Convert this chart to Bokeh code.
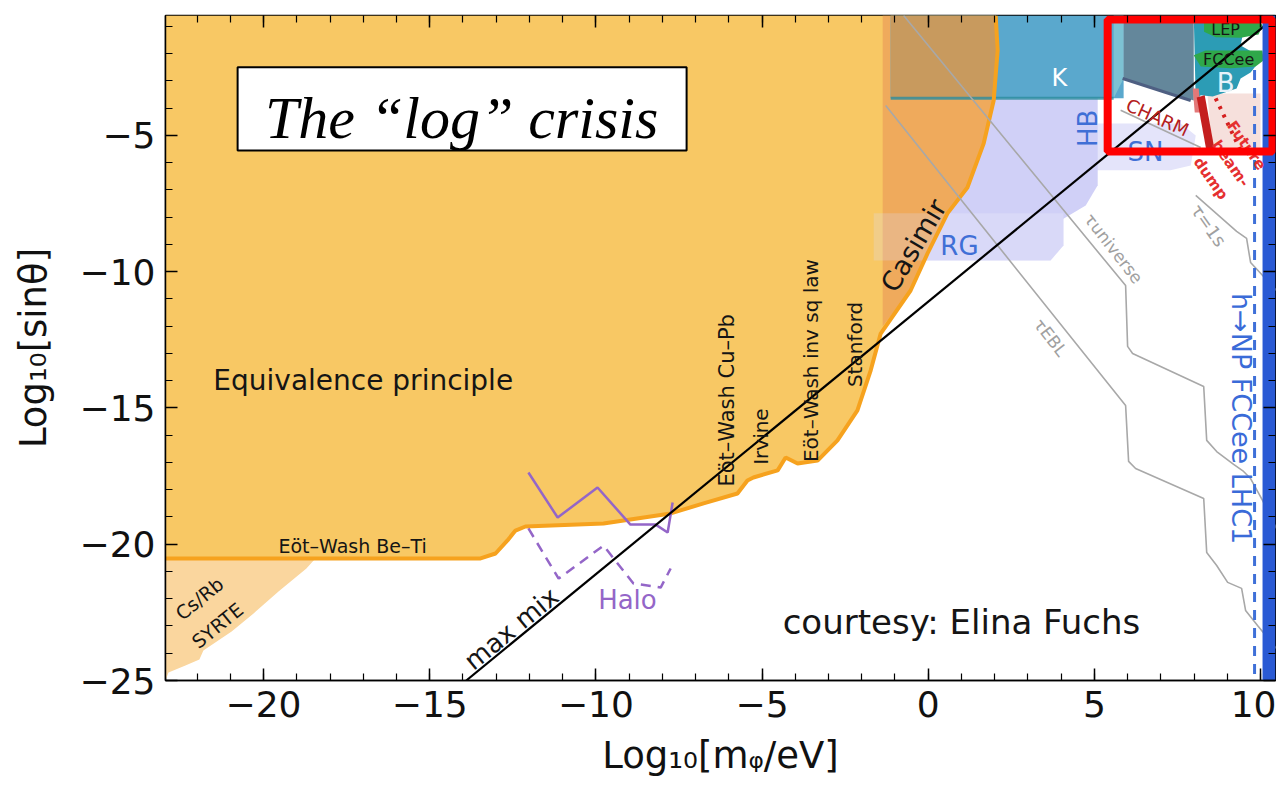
import math
from bokeh.plotting import figure
from bokeh.models import Range1d, LinearAxis, SingleIntervalTicker
from bokeh.core.properties import value
from bokeh.embed import file_html
from bokeh.resources import INLINE

# ---------------- data (log10 m / eV , log10 sin theta) ----------------
x_ticks = [-20, -15, -10, -5, 0, 5, 10]
y_ticks = [-25, -20, -15, -10, -5]

# Equivalence principle / fifth-force exclusion, lower boundary
ep_x = [-22.95, -13.47, -13.02, -12.66, -12.42, -12.12, -9.77, -7.75, -6.76, -5.74, -5.44, -5.26,
        -4.53, -4.29, -3.93, -3.33, -2.73, -2.13, -1.73, -1.43, -0.53, -0.02, 0.58, 1.18, 1.67,
        1.97, 2.09, 2.03]
ep_y = [-20.52, -20.52, -20.34, -19.86, -19.50, -19.35, -19.24, -18.87, -18.50, -18.14, -17.66,
        -17.55, -17.29, -16.82, -17.04, -16.93, -16.19, -15.09, -13.62, -12.27, -10.69, -9.33,
        -7.86, -6.91, -5.29, -3.72, -1.88, -0.60]
# Casimir
cas_x = [-1.37, -1.37, -0.53, -0.02, 0.58, 1.18, 1.67, 1.97, 2.09, 2.03]
cas_y = [-0.60, -12.00, -10.69, -9.33, -7.86, -6.91, -5.29, -3.72, -1.88, -0.60]
# Cs/Rb SYRTE
cs_x = [-22.95, -22.95, -22.86, -22.35, -21.93, -21.81, -20.96, -20.30, -19.55, -18.71, -18.44]
cs_y = [-20.52, -25.00, -24.71, -24.45, -24.23, -23.90, -23.20, -22.54, -21.73, -20.89, -20.52]
# K decays
k_x = [-1.13, 5.88, 5.88, -1.13]
k_y = [-0.60, -0.60, -3.64, -3.64]
kov_x = [-1.13, -1.13, 1.97, 2.09, 2.03]
kov_y = [-0.60, -3.64, -3.64, -1.88, -0.60]
kl_x = [5.58, 5.88, 5.88, 5.58]
kl_y = [-0.60, -0.60, -2.91, -3.64]
# grey box / B / LEP / FCCee
gb_x = [5.88, 7.99, 7.99, 5.88]
gb_y = [-0.60, -0.60, -3.72, -2.91]
gl_x = [5.85, 7.90]
gl_y = [-2.91, -3.72]
b_x = [7.99, 9.94, 9.94, 9.49, 9.40, 9.76, 9.94, 9.70, 9.40, 9.28, 8.95, 8.56, 8.20, 8.05]
b_y = [-0.60, -0.60, -0.85, -1.15, -1.70, -1.95, -2.32, -2.69, -2.91, -3.28, -3.42, -3.57, -3.53, -3.72]
lep_x = [8.30, 9.85, 10.06, 9.94, 9.40, 8.65, 8.30]
lep_y = [-0.75, -0.75, -0.95, -1.30, -1.42, -1.40, -1.20]
fcc_x = [7.99, 8.35, 10.06, 10.09, 9.85, 9.10, 8.20]
fcc_y = [-2.06, -1.88, -1.88, -2.25, -2.47, -2.54, -2.47]
# CHARM / beam dump
pk_x = [8.40, 10.00, 10.00, 8.55]
pk_y = [-3.46, -3.46, -5.60, -5.60]
rb_x = [8.08, 8.32, 8.62, 8.38]
rb_y = [-3.61, -3.53, -5.55, -5.62]
rl_x = [7.96, 8.14, 8.20, 8.02]
rl_y = [-3.28, -3.28, -4.16, -4.16]
rd_x = [8.65, 9.40]
rd_y = [-3.64, -5.55]
# astrophysics (HB, RG, SN)
hb_x = [-1.13, 5.10, 5.10, 4.74, 3.98, -1.13]
hb_y = [-3.64, -3.64, -6.83, -7.57, -8.12, -8.12]
rg_x = [-1.64, 4.07, 4.07, 3.68, -1.64]
rg_y = [-7.86, -7.86, -9.04, -9.59, -9.59]
sn_x = [3.92, 7.60, 8.05, 7.90, 7.29, 3.92]
sn_y = [-4.56, -4.56, -5.00, -6.10, -6.28, -6.28]
# lifetime lines
tu_x = [-0.74, 5.94, 6.00, 6.15, 8.29, 8.38, 8.68, 9.19, 9.49, 9.70, 10.06, 10.48]
tu_y = [-0.60, -10.51, -12.74, -13.00, -14.21, -16.19, -16.60, -17.07, -17.33, -17.59, -18.39, -19.42]
te_x = [-1.28, 5.94, 6.03, 6.24, 8.29, 8.38, 8.68, 9.01, 9.43, 9.55, 9.91, 10.48]
te_y = [-3.90, -14.91, -16.96, -17.22, -18.32, -20.30, -20.78, -21.40, -21.62, -22.43, -22.98, -23.83]
t1_x = [8.05, 9.28, 9.58, 9.70, 10.48]
t1_y = [-7.20, -8.52, -8.78, -9.66, -10.69]
ch_x = [5.79, 8.20]
ch_y = [-4.08, -5.44]
# max mixing
mm_x = [-13.9, 10.5]
mm_y = [-25.0, -0.6]
# Halo
halo_x = [-12.03, -11.15, -9.95, -8.96, -8.20, -7.84, -7.69]
halo_y = [-17.37, -19.02, -17.92, -19.28, -19.28, -19.57, -18.47]
halo2_x = [-12.03, -11.12, -9.77, -8.87, -8.05, -7.75]
halo2_y = [-19.42, -21.26, -20.05, -21.44, -21.59, -20.89]
# h -> NP projection and collider band
bd_x = [9.82, 9.82]
bd_y = [-2.6, -25.0]
band_left, band_right = 10.06, 10.45

# ---------------- figure ----------------
p = figure(width=1276, height=805, x_range=Range1d(-22.95, 10.45), y_range=Range1d(-25, -0.6),
           x_axis_type=None, y_axis_type=None, output_backend="svg", toolbar_location=None,
           min_border_left=165, min_border_right=1, min_border_top=15, min_border_bottom=125)
p.outline_line_color = "black"
p.outline_line_width = 1.5
p.background_fill_color = "white"
p.border_fill_color = "white"

FONT = value("DejaVu Sans")

# lavender astrophysics
p.patch(sn_x, sn_y, fill_color="#E4E4FA", line_color=None)
p.patch(hb_x, hb_y, fill_color="#D0D0F7", line_color=None)
p.patch(rg_x, rg_y, fill_color="#D9D9F9", line_color=None)

# orange regions
p.patch([-22.95] + ep_x, [-0.6] + ep_y, fill_color="#F8C864", line_color=None)
p.patch(cs_x, cs_y, fill_color="#FAD69E", line_color=None)
p.patch(cas_x, cas_y, fill_color="#EFAA5C", line_color=None)
p.patch(rg_x, rg_y, fill_color="#DCDCF8", fill_alpha=0.25, line_color=None)

# K and upper right
p.patch(k_x, k_y, fill_color="#5AA8CD", line_color=None)
p.patch(kl_x, kl_y, fill_color="#7DC2D3", line_color=None)
p.patch(kov_x, kov_y, fill_color="#C89A5E", line_color=None)
p.line([-1.13, 5.58], [-3.64, -3.64], line_color="#2C8C9E", line_width=3, line_alpha=0.8)
p.patch(pk_x, pk_y, fill_color="#F6E0DC", line_color=None)
p.patch(gb_x, gb_y, fill_color="#64879B", line_color=None)
p.line(gl_x, gl_y, line_color="#4E5F82", line_width=3)
p.patch(b_x, b_y, fill_color="#2C9CB5", line_color=None)
p.patch(lep_x, lep_y, fill_color="#2FA84A", line_color=None)
p.patch(fcc_x, fcc_y, fill_color="#2FA84A", line_color=None)
p.patch(rl_x, rl_y, fill_color="#E37878", line_color=None)
p.patch(rb_x, rb_y, fill_color="#C41E1E", line_color=None)
p.line(rd_x, rd_y, line_color="#D42020", line_width=4, line_dash="3 6")

# boundary of fifth-force region
p.line(ep_x, ep_y, line_color="#F6A21E", line_width=4)

# lifetime lines
for xs, ys in [(tu_x, tu_y), (te_x, te_y), (t1_x, t1_y), (ch_x, ch_y)]:
    p.line(xs, ys, line_color="#A8A8A8", line_width=1.6)

# Halo
p.line(halo_x, halo_y, line_color="#9466C8", line_width=2.5)
p.line(halo2_x, halo2_y, line_color="#9466C8", line_width=2.5, line_dash="10 7")

# max mix
p.line(mm_x, mm_y, line_color="black", line_width=2.2)

# blue projection
p.line(bd_x, bd_y, line_color="#3F70D8", line_width=3, line_dash="10 8")
p.quad(left=[band_left], right=[band_right], bottom=[-25], top=[-0.6], fill_color="#2A5AD4", line_color=None)


def lab(x, y, t, size, color="#151515", angle=0.0, align="center", baseline="middle",
        font=FONT, style="normal"):
    p.text(x=[x], y=[y], text=[t], text_font=font, text_font_size=size, text_color=color,
           angle=angle, text_align=align, text_baseline=baseline, text_font_style=style)


lab(-21.51, -13.99, "Equivalence principle", "28px", align="left")
lab(-19.55, -20.05, "Eöt–Wash Be–Ti", "19px", align="left")
lab(-6.04, -14.72, "Eöt–Wash Cu–Pb", "21px", angle=math.pi / 2)
lab(-5.02, -16.05, "Irvine", "20px", angle=math.pi / 2)
lab(-3.54, -13.26, "Eöt–Wash inv sq law", "20px", angle=math.pi / 2)
lab(-2.19, -12.67, "Stanford", "20px", angle=math.pi / 2)
lab(-0.44, -9.04, "Casimir", "27px", angle=1.04)
lab(-21.93, -21.99, "Cs/Rb", "19px", angle=0.68)
lab(-21.39, -22.98, "SYRTE", "19px", angle=0.68)
lab(0.94, -9.04, "RG", "26px", color="#3F6FD6")
lab(4.80, -4.74, "HB", "26px", color="#3F6FD6", angle=math.pi / 2)
lab(6.54, -5.62, "SN", "26px", color="#3F6FD6")
lab(3.95, -2.91, "K", "24px", color="white")
lab(8.95, -3.09, "B", "26px", color="#E6F2FA")
lab(8.95, -1.12, "LEP", "16px")
lab(9.04, -2.20, "FCCee", "16px")
lab(6.90, -4.34, "CHARM", "18px", color="#B42020", angle=-0.42)
lab(9.58, -5.37, "Future", "15px", color="#E53030", angle=-0.96, style="bold")
lab(9.10, -6.03, "beam-", "15px", color="#E53030", angle=-0.96, style="bold")
lab(8.50, -6.58, "dump", "15px", color="#E53030", angle=-0.96, style="bold")
lab(5.58, -9.15, "τuniverse", "17px", color="#A0A0A0", angle=-0.91)
lab(3.68, -12.41, "τEBL", "17px", color="#A0A0A0", angle=-0.91)
lab(8.44, -8.30, "τ=1s", "18px", color="#A0A0A0", angle=-0.96)
lab(9.43, -15.39, "h→NP FCCee LHC1", "27px", color="#3A6BD8", angle=-math.pi / 2)
lab(-12.54, -23.09, "max mix", "26px", angle=0.688)
lab(-9.05, -22.06, "Halo", "26px", color="#9466C8")
lab(-4.38, -22.87, "courtesy: Elina Fuchs", "34px", align="left")

# title box
p.quad(left=[-20.78], right=[-7.27], top=[-2.50], bottom=[-5.55], fill_color="white",
       line_color="black", line_width=2)
lab(-14.04, -4.376, "The “log” crisis", "60px", color="black", baseline="alphabetic",
    font=value("Liberation Serif"), style="italic")

# red highlight box
p.quad(left=[5.40], right=[10.36], top=[-0.744], bottom=[-5.59], fill_color=None,
       line_color="#FF0000", line_width=8)

# ---------------- axes ----------------
minus = {t: ("−" + str(abs(t)) if t < 0 else str(t)) for t in x_ticks}
yminus = {t: ("−" + str(abs(t)) if t < 0 else str(t)) for t in y_ticks}


def style_axis(ax, show_labels):
    ax.major_tick_in = 12
    ax.major_tick_out = 0
    ax.minor_tick_in = 7
    ax.minor_tick_out = 0
    ax.major_tick_line_color = "black"
    ax.minor_tick_line_color = "black"
    ax.major_tick_line_width = 1.5
    ax.minor_tick_line_width = 1.2
    ax.axis_line_color = "black"
    ax.axis_line_width = 1.5
    if show_labels:
        ax.major_label_text_font = "DejaVu Sans"
        ax.major_label_text_font_size = "36px"
        ax.major_label_text_color = "#111111"
        ax.axis_label_text_font = "DejaVu Sans"
        ax.axis_label_text_font_size = "37px"
        ax.axis_label_text_font_style = "normal"
        ax.axis_label_text_color = "#111111"
    else:
        ax.major_label_text_font_size = "0px"
        ax.major_label_text_color = None
        ax.major_label_text_alpha = 0
        ax.major_label_standoff = 0
        ax.axis_line_color = None


xb = LinearAxis(ticker=SingleIntervalTicker(interval=5, num_minor_ticks=5),
                axis_label="Log₁₀[mᵩ/eV]", major_label_overrides=minus)
style_axis(xb, True)
xb.major_label_standoff = 10
xb.axis_label_standoff = 14
p.add_layout(xb, "below")

yl = LinearAxis(ticker=SingleIntervalTicker(interval=5, num_minor_ticks=5),
                axis_label="Log₁₀[sinθ]", major_label_overrides=yminus)
style_axis(yl, True)
yl.major_label_standoff = 10
yl.axis_label_standoff = 22
p.add_layout(yl, "left")

xt = LinearAxis(ticker=SingleIntervalTicker(interval=5, num_minor_ticks=5))
style_axis(xt, False)
p.add_layout(xt, "above")
yr = LinearAxis(ticker=SingleIntervalTicker(interval=5, num_minor_ticks=5))
style_axis(yr, False)
p.add_layout(yr, "right")

open("out.html", "w").write(file_html(p, INLINE))
